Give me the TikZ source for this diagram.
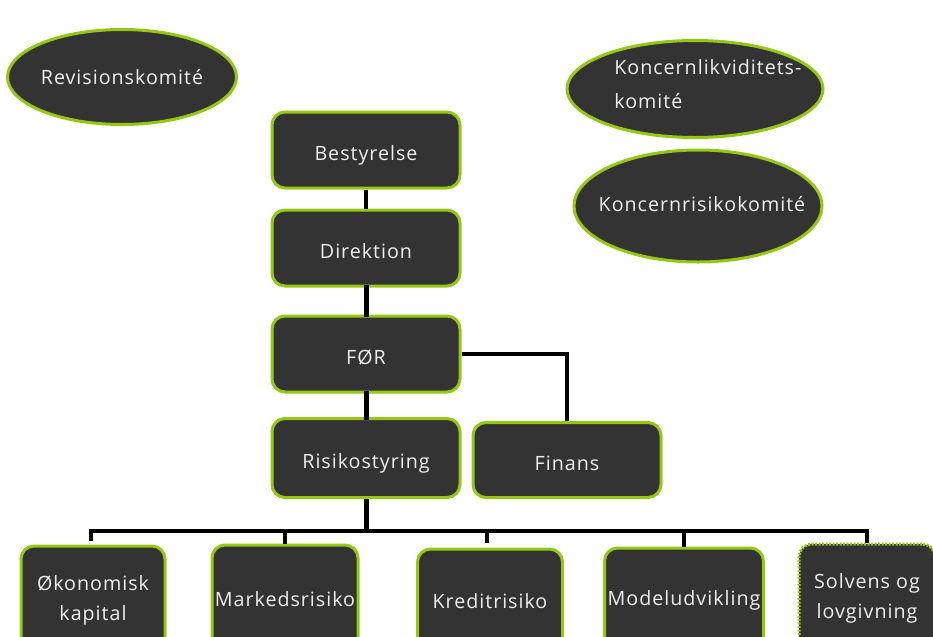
\documentclass[tikz,border=0pt]{standalone}
\usepackage{fontspec}
\setmainfont{Open Sans}[LetterSpace=5]
\usetikzlibrary{shapes.geometric}
\newdimen\upx
\upx=0.02cm
\definecolor{boxfill}{HTML}{333333}
\definecolor{limeedge}{HTML}{95C812}
\definecolor{labeltext}{HTML}{EEEEEE}
\begin{document}
\begin{tikzpicture}[x=0.02cm,y=-0.02cm,
  orgbox/.style={draw=limeedge, line width=3\upx, fill=boxfill, rounded corners=13\upx,
    minimum width=188\upx, minimum height=76\upx, inner sep=0pt,
    text=labeltext, font=\fontsize{11.2}{17}\selectfont, align=center},
  lowlabel/.style={text height=12.5pt, text depth=0pt},
  unitbox/.style={orgbox, minimum width=144\upx, minimum height=104\upx},
  committee/.style={ellipse, draw=limeedge, line width=3\upx, fill=boxfill, inner sep=0pt},
  committeetext/.style={text=labeltext, font=\fontsize{11.2}{19}\selectfont, inner sep=0pt},
  trunk/.style={line width=5\upx, line cap=rect},
  twig/.style={line width=3.5\upx}
]
\useasboundingbox (0,0) rectangle (933,636);

% committees: ellipse shapes with their labels laid on top
\node[committee, minimum width=229\upx, minimum height=95\upx] (rev) at (122,77) {};
\node[committeetext] (revtxt) at (122,77) {Revisionskomité};
\node[committee, minimum width=256\upx, minimum height=97\upx] (likv) at (695,89) {};
\node[committeetext, align=left, anchor=west] (likvtxt) at (614,84) {Koncernlikviditets-\\komité};
\node[committee, minimum width=248\upx, minimum height=112\upx] (krisk) at (698,206) {};
\node[committeetext] (krisktxt) at (702,204) {Koncernrisikokomité};

% management chain
\node[orgbox, lowlabel] (best) at (366,150) {Bestyrelse};
\node[orgbox, lowlabel] (dir) at (366,248) {Direktion};
\node[orgbox, lowlabel] (for) at (366,354) {FØR};
\node[orgbox, lowlabel, minimum height=79\upx] (risk) at (366,458) {Risikostyring};
\node[orgbox, lowlabel, minimum height=75\upx] (fin) at (567,460) {Finans};

% risk units
\node[unitbox, minimum height=108\upx] (okon) at (93,600) {Økonomisk\\kapital};
\node[unitbox, minimum width=146\upx, minimum height=108\upx] (mark) at (285,599) {Markedsrisiko};
\node[unitbox, minimum width=145\upx, minimum height=104\upx] (kred) at (490,601) {Kreditrisiko};
\node[unitbox, minimum width=159\upx, minimum height=104\upx] (model) at (684,600) {Modeludvikling};
\node[unitbox, minimum width=136\upx, minimum height=108\upx, dash pattern=on 2\upx off 1.5\upx, rounded corners=13\upx] (solv) at (867,598) {Solvens og\\lovgivning};

% connectors
\draw[line width=4\upx] (best) -- (dir);
\draw[trunk] (dir) -- (for);
\draw[trunk] (for) -- (risk);
\draw[line width=4.5\upx] (for.east) -| (fin.north);

\coordinate (bus) at (366,531);
\draw[trunk, line cap=butt] (risk.south) -- (bus);
\draw[line width=4.5\upx] (okon.north) ++(-2,-4) coordinate (okdrop) |- (bus) -| (solv.north);
\draw[twig] (mark.north) -- (mark.north |- bus);
\draw[twig] (kred.north) ++(-3,-5) coordinate (kreddrop) -- (kreddrop |- bus);
\draw[twig] (model.north) -- (model.north |- bus);
\end{tikzpicture}
\end{document}
